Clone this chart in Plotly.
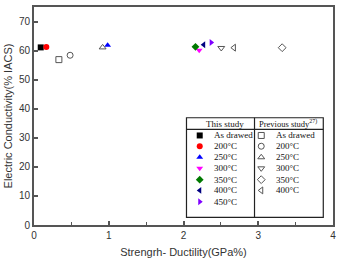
import plotly.graph_objects as go

labels = ["As drawed", "200°C", "250°C", "300°C", "350°C", "400°C", "450°C"]
this_x = [0.09, 0.165, 0.985, 2.21, 2.16, 2.27, 2.37]
this_y = [61.1, 61.2, 61.8, 60.1, 61.3, 62.0, 62.8]
this_sym = ["square", "circle", "triangle-up", "triangle-down", "diamond", "triangle-left", "triangle-right"]
this_col = ["#000000", "#ff0000", "#0000ff", "#ff00ff", "#007a00", "#000080", "#7f00ff"]

prev_labels = ["As drawed", "200°C", "250°C", "300°C", "350°C", "400°C"]
prev_x = [0.333, 0.483, 0.918, 2.505, 3.32, 2.674]
prev_y = [56.9, 58.4, 61.1, 60.9, 61.0, 61.0]
prev_sym = ["square-open", "circle-open", "triangle-up-open", "triangle-down-open", "diamond-open", "triangle-left-open"]

fig = go.Figure()
for i in range(len(labels)):
    fig.add_trace(go.Scatter(x=[this_x[i]], y=[this_y[i]], mode="markers",
                             marker=dict(symbol=this_sym[i], color=this_col[i], size=6),
                             showlegend=False, cliponaxis=False))
for i in range(len(prev_labels)):
    fig.add_trace(go.Scatter(x=[prev_x[i]], y=[prev_y[i]], mode="markers",
                             marker=dict(symbol=prev_sym[i], color="#555555", size=6, line=dict(width=1)),
                             showlegend=False))

# table-like legend
bx0, bx1, by0, by1 = 2.04, 3.87, 2.6, 36.9
hline_y = 32.9
div_x = 2.95
rows_y = [30.8, 27.1, 23.3, 19.5, 15.6, 11.9, 8.0]
c1m, c1t, c2m, c2t = 2.217, 2.376, 3.04, 3.21
lc = "#222222"
fig.add_shape(type="rect", x0=bx0, x1=bx1, y0=by0, y1=by1, xref="x", yref="y", line=dict(color=lc, width=1.2))
fig.add_shape(type="line", x0=bx0, x1=bx1, y0=hline_y, y1=hline_y, xref="x", yref="y", line=dict(color=lc, width=1.2))
fig.add_shape(type="line", x0=div_x, x1=div_x, y0=by0, y1=by1, xref="x", yref="y", line=dict(color=lc, width=1.2))

ser = dict(family="Liberation Serif", size=9, color="#111111")
fig.add_annotation(x=2.56, y=34.8, text="This study", showarrow=False, font=ser, xanchor="center", yanchor="middle")
fig.add_annotation(x=2.985, y=34.8, text="Previous study<sup>27)</sup>", showarrow=False,
                   font=dict(family="Liberation Serif", size=8.5, color="#111111"), xanchor="left", yanchor="middle")

fig.add_trace(go.Scatter(x=[c1m]*len(labels), y=rows_y, mode="markers",
                         marker=dict(symbol=this_sym, color=this_col, size=6), showlegend=False))
fig.add_trace(go.Scatter(x=[c2m]*len(prev_labels), y=rows_y[:len(prev_labels)], mode="markers",
                         marker=dict(symbol=prev_sym, color="#555555", size=6, line=dict(width=1)), showlegend=False))
for i, t in enumerate(labels):
    fig.add_annotation(x=c1t, y=rows_y[i], text=t, showarrow=False, font=ser, xanchor="left", yanchor="middle")
for i, t in enumerate(prev_labels):
    fig.add_annotation(x=c2t, y=rows_y[i], text=t, showarrow=False, font=ser, xanchor="left", yanchor="middle")

axcol = "#555555"
fig.update_xaxes(range=[0, 4], dtick=1, ticks="inside", ticklen=4, tickwidth=1.5, tickcolor=axcol,
                 minor=dict(dtick=0.5, ticks="inside", ticklen=3, tickwidth=1.2, tickcolor=axcol),
                 showline=True, linecolor=axcol, linewidth=1.8, mirror=True, showgrid=False, zeroline=False,
                 tickfont=dict(family="Liberation Sans", size=10, color="#333333"),
                 title=dict(text="Strengrh- Ductility(GPa%)", font=dict(family="Liberation Sans", size=11, color="#333333"), standoff=8))
fig.update_yaxes(range=[0, 75], tickvals=[0, 10, 20, 30, 40, 50, 60, 70], ticks="inside", ticklen=4, tickwidth=1.5, tickcolor=axcol,
                 showline=True, linecolor=axcol, linewidth=1.8, mirror=True, showgrid=False, zeroline=False,
                 tickfont=dict(family="Liberation Sans", size=10, color="#333333"),
                 title=dict(text="Electric Conductivity(% IACS)", font=dict(family="Liberation Sans", size=11, color="#333333"), standoff=4))
fig.update_layout(width=341, height=262, margin=dict(l=34, r=6, t=5, b=34),
                  plot_bgcolor="white", paper_bgcolor="white")
fig.write_html("out.html")
